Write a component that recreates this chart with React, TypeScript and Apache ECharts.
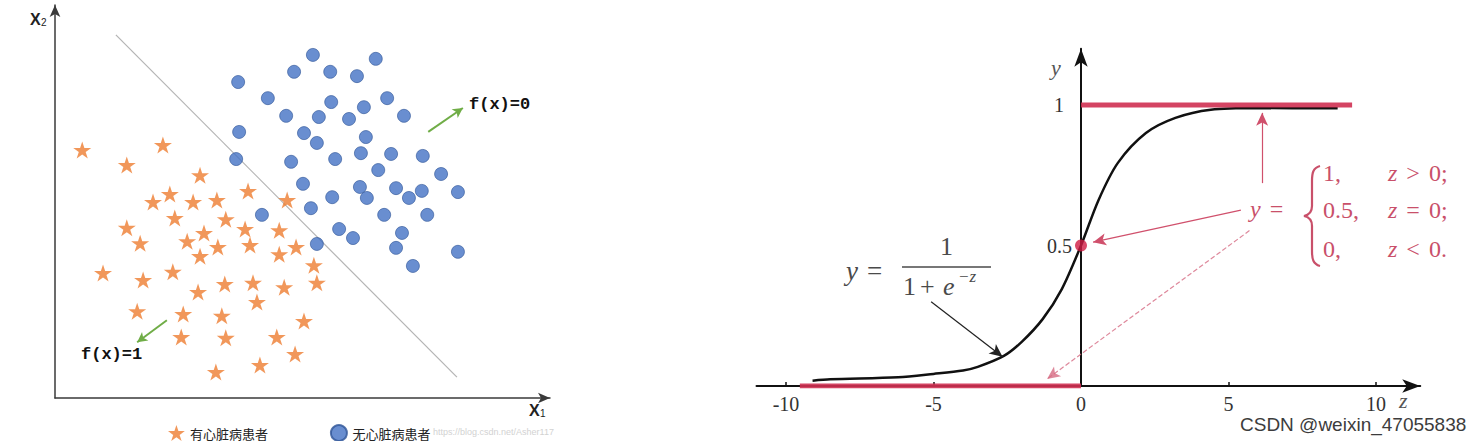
import React, { useEffect, useRef } from "react";
import * as echarts from "echarts";

// ---------- Left panel: two classes in the (X1, X2) plane (units 0..100) ----------
const heartX = [5.5, 21.8, 14.5, 29.3, 39.0, 46.9, 19.8, 23.2, 27.9, 32.7, 24.2, 34.5, 14.5, 17.2, 26.7, 30.1, 32.9, 38.4, 45.3, 39.4, 48.7, 45.3, 29.3, 52.3, 9.7, 17.8, 23.8, 34.3, 40.0, 46.3, 52.9, 28.9, 40.8, 16.6, 25.9, 33.7, 50.3, 25.5, 34.5, 44.8, 48.5, 41.4, 32.5];
const heartY = [63.1, 64.4, 59.3, 56.7, 52.7, 50.4, 49.9, 51.9, 49.9, 50.4, 45.8, 45.5, 43.3, 39.4, 39.9, 42.0, 38.4, 43.0, 42.7, 38.9, 38.4, 36.6, 36.1, 33.8, 31.8, 30.0, 32.1, 29.0, 29.3, 28.2, 29.3, 27.0, 24.4, 22.1, 21.4, 20.9, 19.6, 15.5, 15.3, 15.5, 11.2, 8.4, 6.6];
const healthyX = [52.1, 64.8, 48.3, 55.6, 61.0, 37.0, 43.0, 55.8, 62.4, 67.1, 46.7, 53.3, 59.4, 70.5, 37.2, 50.3, 52.9, 62.8, 36.6, 47.7, 56.6, 61.8, 67.9, 74.3, 65.3, 78.0, 50.1, 61.6, 63.0, 68.9, 71.5, 74.1, 81.4, 56.0, 51.7, 41.8, 66.5, 75.2, 57.4, 60.2, 70.1, 52.9, 68.9, 81.4, 72.3];
const healthyY = [87.3, 86.3, 83.0, 83.0, 81.9, 80.4, 76.3, 75.3, 74.0, 76.3, 71.8, 71.5, 71.0, 71.8, 67.7, 67.4, 64.9, 66.4, 60.8, 60.1, 60.8, 62.3, 62.1, 61.6, 58.0, 57.0, 54.5, 53.7, 50.9, 53.4, 50.9, 52.7, 52.4, 51.1, 48.3, 46.6, 46.6, 46.6, 43.0, 40.7, 42.0, 39.2, 38.2, 37.2, 33.6];
const boundaryX = [12.3, 81.2];
const boundaryY = [92.4, 5.3];
// green arrows [fromX, fromY, toX, toY]
const arrowF0 = [75.4, 67.7, 82.4, 73.8];
const arrowF1 = [22.6, 19.8, 16.6, 14.2];
const seriesNames = ["有心脏病患者", "无心脏病患者"];

// ---------- Right panel: sigmoid ----------
const sigmoidZ = [-9.1, -8.5, -6.2, -5.0, -4.0, -3.5, -2.6, -2.0, -1.3, -0.65, 0, 0.6, 1.25, 2.2, 3.2, 4.4, 6.0, 8.7];
const sigmoidY = [0.019, 0.024, 0.031, 0.043, 0.055, 0.068, 0.108, 0.158, 0.238, 0.345, 0.5, 0.663, 0.794, 0.9, 0.954, 0.983, 0.989, 0.988];
const stepHighZ = [0, 9.19];
const stepLowZ = [-9.53, 0];
const midPoint = [0, 0.5];
const zTicks = [-10, -5, 0, 5, 10];
const zTickMarks = [-10, -5, 5, 10];
const yTicks = [0.5, 1];
// annotation arrows [fromZ, fromY, toZ, toY]
const arrowUp = [6.14, 0.722, 6.14, 0.972];
const arrowMid = [5.42, 0.626, 0.41, 0.512];
const arrowLow = [5.71, 0.553, -1.15, 0.025];
const arrowCurve = [-5.08, 0.3, -2.66, 0.104];

const STAR =
  "path://M50,0 L61.23,34.55 L97.55,34.55 L68.17,55.9 L79.39,90.45 L50,69.1 L20.61,90.45 L31.83,55.9 L2.45,34.55 L38.77,34.55 Z";

const SERIF = "'Liberation Serif', 'DejaVu Serif', serif";
const SANS = "'Liberation Sans', Arial, sans-serif";
const CJK = "'Noto Sans CJK SC', 'Noto Sans', sans-serif";
const MONO = "'Liberation Mono', 'DejaVu Sans Mono', monospace";
const RED = "#cf3052";
const PINK = "#c9506a";
const GRAY = "#4a4a4a";

echarts.graphic.registerShape(
  "brace",
  echarts.graphic.extendPath(
    "M17,0 C10,2 9,7 9,15 L9,40 C9,46 6,49 1,50 C6,51 9,54 9,60 L9,85 C9,93 10,98 17,100",
    {}
  )
);

const seg = (a: number[]) => [[{ coord: [a[0], a[1]] }, { coord: [a[2], a[3]] }]];

const pinkRich = {
  i: { fontFamily: SERIF, fontStyle: "italic", fontSize: 24, fill: PINK },
  r: { fontFamily: SERIF, fontSize: 24, fill: PINK, padding: [0, 9, 0, 9] },
  n: { fontFamily: SERIF, fontSize: 24, fill: PINK },
};

function buildOption() {
  const hearts = heartX.map((x, i) => [x, heartY[i]]);
  const healthy = healthyX.map((x, i) => [x, healthyY[i]]);
  const boundary = boundaryX.map((x, i) => [x, boundaryY[i]]);
  const curve = sigmoidZ.map((z, i) => [z, sigmoidY[i]]);

  const leftAxisLine = {
    show: true,
    onZero: false,
    symbol: ["none", "arrow"],
    symbolSize: [8, 12],
    lineStyle: { color: "#3a3a3a", width: 1.5 },
  };
  const rightAxisLine = {
    show: true,
    onZero: false,
    symbol: ["none", "arrow"],
    symbolSize: [10, 18],
    lineStyle: { color: "#111", width: 2 },
  };

  return {
    animation: false,
    backgroundColor: "#fff",
    grid: [
      { left: 55, top: 5, width: 495, height: 393, containLabel: false, outerBoundsMode: "none" },
      { left: 756.5, top: 48.8, width: 663.75, height: 337.2, containLabel: false, outerBoundsMode: "none" },
    ],
    xAxis: [
      {
        type: "value", gridIndex: 0, min: 0, max: 100,
        axisLine: leftAxisLine, axisTick: { show: false }, axisLabel: { show: false }, splitLine: { show: false },
      },
      {
        type: "value", gridIndex: 1, min: -11, max: 11.5,
        axisLine: rightAxisLine,
        axisTick: { show: true, inside: true, length: 4, customValues: zTickMarks, lineStyle: { color: "#111", width: 1.5 } },
        axisLabel: { show: true, customValues: zTicks, margin: 8, fontSize: 20, fontFamily: SERIF, color: "#333" },
        splitLine: { show: false },
      },
    ],
    yAxis: [
      {
        type: "value", gridIndex: 0, min: 0, max: 100,
        axisLine: leftAxisLine, axisTick: { show: false }, axisLabel: { show: false }, splitLine: { show: false },
      },
      {
        type: "value", gridIndex: 1, min: 0, max: 1.2,
        offset: -324.5,
        axisLine: rightAxisLine,
        axisTick: { show: false },
        axisLabel: {
          show: true, customValues: yTicks, margin: 9, fontSize: 20, fontFamily: SERIF, color: "#333",
          formatter: (v: number) => (v === 1 ? "{a|1}" : String(v)),
          rich: { a: { fontSize: 20, fontFamily: SERIF, color: "#333", padding: [0, 8, 0, 0] } },
        },
        splitLine: { show: false },
      },
    ],
    legend: {
      data: seriesNames,
      left: 163,
      top: 419,
      itemWidth: 17,
      itemHeight: 16,
      itemGap: 62,
      textStyle: { fontSize: 13, fontFamily: CJK, color: "#222" },
      selectedMode: false,
    },
    series: [
      {
        name: seriesNames[0], type: "scatter", xAxisIndex: 0, yAxisIndex: 0,
        symbol: STAR, symbolSize: [18, 17], itemStyle: { color: "#ED7D31" }, data: hearts, z: 3,
      },
      {
        name: seriesNames[1], type: "scatter", xAxisIndex: 0, yAxisIndex: 0,
        symbol: "circle", symbolSize: 13, itemStyle: { color: "#4472C4", borderColor: "#2F5597", borderWidth: 0.8 }, data: healthy, z: 3,
      },
      {
        name: "boundary", type: "line", xAxisIndex: 0, yAxisIndex: 0, symbol: "none",
        lineStyle: { color: "#b4b4b4", width: 1.2 }, data: boundary, z: 2,
        markLine: {
          silent: true, symbol: ["none", "arrow"], symbolSize: [8, 10],
          label: { show: false },
          lineStyle: { color: "#70AD47", width: 2, type: "solid" },
          data: [...seg(arrowF0), ...seg(arrowF1)],
        },
      },
      {
        name: "sigmoid", type: "line", xAxisIndex: 1, yAxisIndex: 1, symbol: "none", smooth: 0.3,
        lineStyle: { color: "#111", width: 2.5 }, data: curve, z: 3,
        markLine: {
          silent: true, symbol: ["none", "arrow"], symbolSize: [9, 13],
          label: { show: false },
          lineStyle: { color: "#222", width: 1.2, type: "solid" },
          data: seg(arrowCurve),
        },
      },
      {
        name: "step1", type: "line", xAxisIndex: 1, yAxisIndex: 1, symbol: "none",
        lineStyle: { color: RED, width: 5, opacity: 0.9 }, data: stepHighZ.map((z) => [z, 1]), z: 4,
        markLine: {
          silent: true, symbol: ["none", "arrow"], symbolSize: [9, 13],
          label: { show: false },
          lineStyle: { color: "#d0506c", width: 1.2, type: "solid" },
          data: [...seg(arrowUp), ...seg(arrowMid)],
        },
      },
      {
        name: "step0", type: "line", xAxisIndex: 1, yAxisIndex: 1, symbol: "none",
        lineStyle: { color: RED, width: 5, opacity: 0.9 }, data: stepLowZ.map((z) => [z, 0]), z: 4,
        markLine: {
          silent: true, symbol: ["none", "arrow"], symbolSize: [9, 13],
          label: { show: false },
          lineStyle: { color: "#d66a82", width: 1.2, type: "dashed", opacity: 0.8 },
          data: seg(arrowLow),
        },
      },
      {
        name: "mid", type: "scatter", xAxisIndex: 1, yAxisIndex: 1, symbol: "circle", symbolSize: 12,
        itemStyle: { color: "#d01c44" }, data: [midPoint], z: 5,
      },
    ],
    graphic: [
      // left panel labels
      { type: "text", left: 30, top: 11, style: { text: "X", font: `bold 16px ${SANS}`, fill: "#222" } },
      { type: "text", left: 41, top: 17, style: { text: "2", font: `10px ${SANS}`, fill: "#222" } },
      { type: "text", left: 529, top: 402, style: { text: "X", font: `bold 16px ${SANS}`, fill: "#222" } },
      { type: "text", left: 540, top: 408, style: { text: "1", font: `10px ${SANS}`, fill: "#222" } },
      { type: "text", left: 469, top: 96, style: { text: "f(x)=0", font: `bold 17px ${MONO}`, fill: "#111" } },
      { type: "text", left: 81, top: 346, style: { text: "f(x)=1", font: `bold 17px ${MONO}`, fill: "#111" } },
      { type: "text", left: 433, top: 427, style: { text: "https://blog.csdn.net/Asher117", font: `9px ${SANS}`, fill: "#d2d2d2" } },
      // right panel axis names
      { type: "text", left: 1051, top: 56, style: { text: "y", font: `italic 22px ${SERIF}`, fill: "#555" } },
      { type: "text", left: 1399, top: 389, style: { text: "z", font: `italic 22px ${SERIF}`, fill: "#555" } },
      // sigmoid formula
      { type: "text", left: 846, top: 257, style: { text: "y", font: `italic 27px ${SERIF}`, fill: GRAY } },
      { type: "text", left: 867, top: 257, style: { text: "=", font: `27px ${SERIF}`, fill: GRAY } },
      { type: "text", left: 940, top: 233, style: { text: "1", font: `26px ${SERIF}`, fill: GRAY } },
      { type: "line", shape: { x1: 902, y1: 267, x2: 991, y2: 267 }, style: { stroke: GRAY, lineWidth: 1.5 } },
      { type: "text", left: 903, top: 273, style: { text: "1", font: `26px ${SERIF}`, fill: GRAY } },
      { type: "text", left: 920, top: 273, style: { text: "+", font: `26px ${SERIF}`, fill: GRAY } },
      { type: "text", left: 943, top: 273, style: { text: "e", font: `italic 26px ${SERIF}`, fill: GRAY } },
      { type: "text", left: 958, top: 268, style: { text: "−z", font: `italic 17px ${SERIF}`, fill: GRAY } },
      // piecewise formula
      { type: "text", left: 1250, top: 197, style: { text: "{i|y}{r|=}", rich: pinkRich } },
      { type: "brace", x: 1303, y: 166, style: { stroke: PINK, fill: "none", lineWidth: 2.2 } },
      { type: "text", left: 1323, top: 161, style: { text: "1,", font: `24px ${SERIF}`, fill: PINK } },
      { type: "text", left: 1323, top: 198, style: { text: "0.5,", font: `24px ${SERIF}`, fill: PINK } },
      { type: "text", left: 1323, top: 237, style: { text: "0,", font: `24px ${SERIF}`, fill: PINK } },
      { type: "text", left: 1388, top: 161, style: { text: "{i|z}{r|>}{n|0;}", rich: pinkRich } },
      { type: "text", left: 1388, top: 198, style: { text: "{i|z}{r|=}{n|0;}", rich: pinkRich } },
      { type: "text", left: 1388, top: 237, style: { text: "{i|z}{r|<}{n|0.}", rich: pinkRich } },
      // watermark
      { type: "text", left: 1240, top: 415, style: { text: "CSDN @weixin_47055838", font: `19px ${SANS}`, fill: "#3c3c3c" } },
    ],
  };
}

export default function App() {
  const ref = useRef<HTMLDivElement>(null);
  useEffect(() => {
    document.body.style.margin = "0";
    const chart = echarts.init(ref.current as HTMLDivElement, null, { renderer: "svg" });
    chart.setOption(buildOption() as any);
    return () => chart.dispose();
  }, []);
  return <div ref={ref} style={{ width: 1483, height: 441 }} />;
}
